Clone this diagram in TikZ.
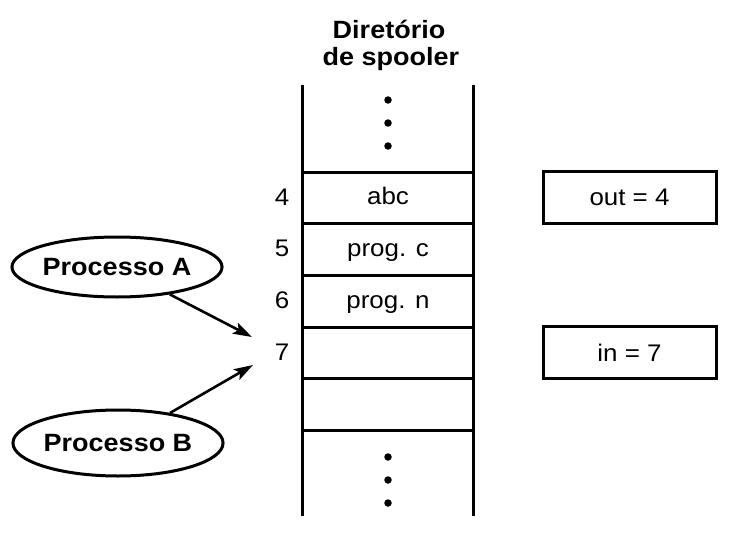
\documentclass[tikz,border=0pt]{standalone}
\usepackage{fontspec}
\setmainfont[FakeStretch=1.08]{Liberation Sans}
\usetikzlibrary{arrows.meta,shapes.geometric}
\begin{document}
\begin{tikzpicture}[x=1pt,y=-1pt,
  line/.style={line width=3pt},
  celltext/.style={font=\fontsize{24}{28}\selectfont, inner sep=0pt, anchor=base},
  numtext/.style={font=\fontsize{24}{28}\selectfont, inner sep=0pt, anchor=base},
  titletext/.style={font=\fontsize{25}{30}\selectfont\bfseries, inner sep=0pt, anchor=base},
  varbox/.style={draw, line width=3pt, minimum width=173pt, minimum height=52pt, inner sep=0pt, font=\fontsize{24}{28}\selectfont},
  proc/.style={ellipse, draw, line width=3pt, inner sep=0pt, font=\fontsize{25}{30}\selectfont\bfseries},
  dotm/.style={circle, fill, inner sep=0pt, minimum size=7.5pt},
  arr/.style={line width=2.6pt, -{Stealth[length=19pt,width=12pt,inset=4pt]}}
]
\useasboundingbox[fill=white] (0,0) rectangle (734,538);
% title
\node[titletext] (t1) at (389,38) {Diretório};
\node[titletext] (t2) at (391,65) {de spooler};
% column
\coordinate (cl1) at (302,85);
\coordinate (cl2) at (302,516);
\coordinate (cr1) at (473,85);
\coordinate (cr2) at (473,516);
\draw[line] (cl1) -- (cl2);
\draw[line] (cr1) -- (cr2);
\foreach \yy/\nm in {172/h1,223.5/h2,275/h3,327/h4,378/h5,430/h6}{
  \coordinate (\nm l) at (302,\yy);
  \coordinate (\nm r) at (473,\yy);
  \draw[line] (\nm l) -- (\nm r);
}
% dots
\node[dotm] (d1) at (388,100) {};
\node[dotm] (d2) at (388,123) {};
\node[dotm] (d3) at (388,146) {};
\node[dotm] (d4) at (388,457) {};
\node[dotm] (d5) at (388,480) {};
\node[dotm] (d6) at (388,503) {};
% cell texts
\node[celltext] (c4) at (388,204.5) {abc};
\node[celltext] (c5) at (388,256) {prog. c};
\node[celltext] (c6) at (388,308) {prog. n};
% numbers
\node[numtext] (n4) at (282,205) {4};
\node[numtext] (n5) at (282,256.5) {5};
\node[numtext] (n6) at (282,308.5) {6};
\node[numtext] (n7) at (282,360.5) {7};
% variable boxes
\node[varbox] (out) at (629.5,197) {out = 4};
\node[varbox] (in) at (629.5,352.5) {in = 7};
% processes
\node[proc, minimum width=187pt, minimum height=60pt] (pa) at (117,267) {Processo A};
\node[proc, minimum width=190pt, minimum height=66pt] (pb) at (118,443) {Processo B};
\coordinate (ta) at (252,337);
\coordinate (tb) at (253,365);
\draw[arr] (pa) -- (ta);
\draw[arr] (pb) -- (tb);
\end{tikzpicture}
\end{document}
